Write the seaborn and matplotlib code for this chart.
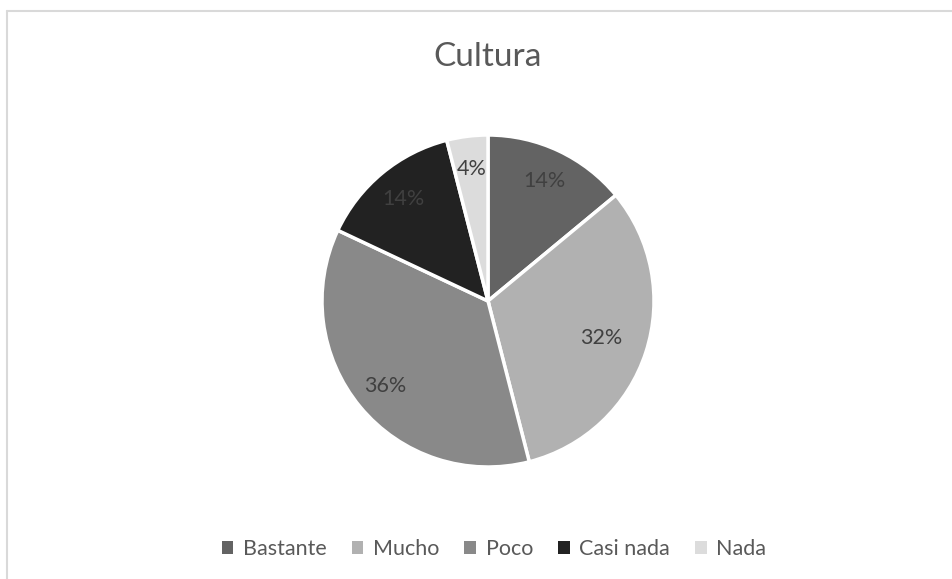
import matplotlib
matplotlib.use("Agg")
import numpy as np
import matplotlib.pyplot as plt
import seaborn as sns
from matplotlib.patches import Patch
from matplotlib.lines import Line2D

title = "Cultura"
categories = ["Bastante", "Mucho", "Poco", "Casi nada", "Nada"]
values = [14, 32, 36, 14, 4]
colors = ["#636363", "#b1b1b1", "#898989", "#222222", "#dcdcdc"]
label_dist = [0.8, 0.72, 0.8, 0.8, 0.8]

sns.set_theme(style="white")
plt.rcParams["font.family"] = ["Lato", "DejaVu Sans"]

W, H = 953, 579
fig = plt.figure(figsize=(W / 100, H / 100), dpi=100)
fig.patch.set_facecolor("white")

# chart frame (top and left edges visible)
fig.add_artist(Line2D([7.5 / W, 7.5 / W], [0, 1 - 10.5 / H], transform=fig.transFigure,
                      color="#d9d9d9", lw=1.5))
fig.add_artist(Line2D([7.5 / W, 1], [1 - 10.5 / H, 1 - 10.5 / H], transform=fig.transFigure,
                      color="#d9d9d9", lw=1.5))

cx, cy, r = 488, 301, 166
pad = 1.1
ax = fig.add_axes([(cx - r * pad) / W, 1 - (cy + r * pad) / H, 2 * r * pad / W, 2 * r * pad / H])
wedges, texts, autotexts = ax.pie(
    values, colors=colors, startangle=90, counterclock=False,
    autopct=lambda p: f"{p:.0f}%", pctdistance=0.78,
    wedgeprops=dict(edgecolor="white", linewidth=2.5),
    textprops=dict(color="#404040", fontsize=15.5),
)
for w, t, d in zip(wedges, autotexts, label_dist):
    ang = np.deg2rad((w.theta1 + w.theta2) / 2)
    t.set_position((d * np.cos(ang), d * np.sin(ang)))
ax.set_xlim(-pad, pad)
ax.set_ylim(-pad, pad)
ax.set_aspect("equal")
ax.axis("off")

fig.text(cx / W, 1 - 57 / H, title, ha="center", va="center", fontsize=24, color="#595959")

handles = [Patch(facecolor=c, edgecolor="none") for c in colors]
fig.legend(handles, categories, loc="center", bbox_to_anchor=(494 / W, 1 - 549 / H), ncol=5,
           frameon=False, fontsize=15.5, labelcolor="#595959", handlelength=0.55, handleheight=0.55,
           handletextpad=0.45, columnspacing=1.15)

fig.savefig("out.png", dpi=100)
